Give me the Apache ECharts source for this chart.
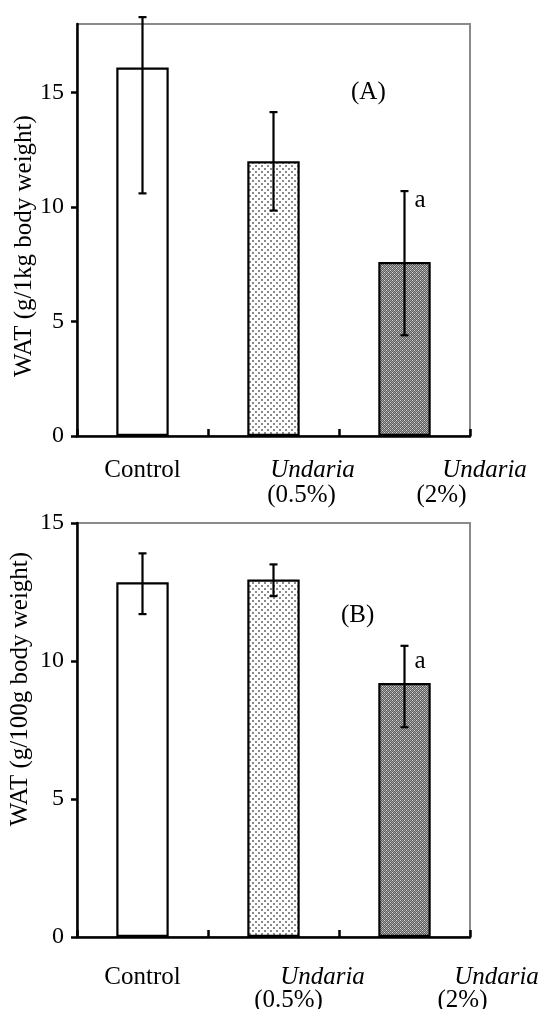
<!DOCTYPE html>
<html lang="en">
<head>
    <meta charset="UTF-8">
    <title>WAT</title>
    <script src="https://cdn.jsdelivr.net/npm/echarts@6/dist/echarts.min.js"></script>
    <style>
        *{ margin:0; padding:0; }
        #main { width:544px; height:1009px; background:#fff; }
    </style>
</head>
<body>
<div id="main"></div>
<script type="text/javascript">
    // data
    var categories = ['Control', 'Undaria (0.5%)', 'Undaria (2%)'];
    var meanA = [16.1, 12.0, 7.6];
    var lowA  = [10.6, 9.85, 4.4];
    var highA = [18.3, 14.15, 10.7];
    var sigA  = ['', '', 'a'];
    var meanB = [12.85, 12.95, 9.2];
    var lowB  = [11.7, 12.35, 7.6];
    var highB = [13.9, 13.5, 10.55];
    var sigB  = ['', '', 'a'];
    var ticksA = [0, 5, 10, 15];
    var ticksB = [0, 5, 10, 15];

    var FONT = "'Liberation Serif', 'Times New Roman', serif";

    // fill patterns
    function dotTile() {
        var c = document.createElement('canvas');
        c.width = 6; c.height = 6;
        var g = c.getContext('2d');
        g.fillStyle = '#ffffff'; g.fillRect(0, 0, 6, 6);
        g.fillStyle = '#8a8a8a';
        g.fillRect(0, 0, 2, 2); g.fillRect(3, 3, 2, 2);
        return c;
    }
    function darkTile() {
        var c = document.createElement('canvas');
        c.width = 4; c.height = 4;
        var g = c.getContext('2d');
        for (var i = 0; i < 4; i++) {
            for (var j = 0; j < 4; j++) {
                g.fillStyle = (i + j) % 2 ? '#5c5c5c' : '#a4a4a4';
                g.fillRect(i, j, 1, 1);
            }
        }
        g.fillStyle = '#d8d8d8';
        g.fillRect(0, 0, 1, 1); g.fillRect(2, 2, 1, 1);
        return c;
    }
    var fills = ['#ffffff', {image: dotTile(), repeat: 'repeat'}, {image: darkTile(), repeat: 'repeat'}];

    function barData(vals) {
        return vals.map(function (v, i) {
            return {value: v, itemStyle: {color: fills[i]}};
        });
    }
    function errData(lo, hi) {
        return lo.map(function (v, i) { return [i, v, hi[i]]; });
    }
    function errRender(sig, aDy) {
        return function (params, api) {
            var lo = api.coord([api.value(0), api.value(1)]);
            var hi = api.coord([api.value(0), api.value(2)]);
            var st = {stroke: '#000', lineWidth: 2.2};
            var w = 4;
            var kids = [
                {type: 'line', shape: {x1: lo[0], y1: lo[1], x2: hi[0], y2: hi[1]}, style: st},
                {type: 'line', shape: {x1: lo[0] - w, y1: lo[1], x2: lo[0] + w, y2: lo[1]}, style: st},
                {type: 'line', shape: {x1: hi[0] - w, y1: hi[1], x2: hi[0] + w, y2: hi[1]}, style: st}
            ];
            var s = sig[params.dataIndex];
            if (s) {
                kids.push({type: 'text', x: hi[0] + 10, y: hi[1] + aDy,
                    style: {text: s, font: '25px ' + FONT, fill: '#000', verticalAlign: 'middle'}});
            }
            return {type: 'group', children: kids};
        };
    }

    function catLabels(pads) {
        var base = {fontFamily: FONT, fontSize: 25, lineHeight: pads.lh, color: '#000'};
        function st(extra) { return Object.assign({}, base, extra); }
        return {
            interval: 0,
            color: '#000',
            fontFamily: FONT,
            fontSize: 25,
            lineHeight: pads.lh,
            margin: pads.margin,
            formatter: function (v, i) {
                if (i === 0) return '{n|Control}';
                if (i === 1) return '{u1|Undaria}\n{p1|(0.5%)}';
                return '{u2|Undaria}\n{p2|(2%)}';
            },
            rich: {
                n:  st({}),
                u1: st({fontStyle: 'italic', padding: [0, 0, 0, pads.u1]}),
                p1: st({padding: [0, 0, 0, pads.p1]}),
                u2: st({fontStyle: 'italic', padding: [0, 0, 0, pads.u2]}),
                p2: st({padding: [0, 0, 0, pads.p2]})
            }
        };
    }

    function xAxisFor(gridIndex, pads) {
        return {
            type: 'category',
            gridIndex: gridIndex,
            data: categories,
            z: 10,
            axisLine: {show: true, lineStyle: {color: '#000', width: 2.5}},
            axisTick: {show: true, interval: 0, inside: true, length: 7, lineStyle: {color: '#000', width: 2.5}},
            axisLabel: catLabels(pads),
            splitLine: {show: false}
        };
    }
    function yAxisFor(gridIndex, max, ticks, name, namePad, gap) {
        return {
            type: 'value',
            gridIndex: gridIndex,
            z: 10,
            min: ticks[0],
            max: max,
            interval: ticks[1] - ticks[0],
            name: name,
            nameLocation: 'middle',
            nameRotate: 90,
            nameGap: gap,
            nameMoveOverlap: false,
            nameTextStyle: {fontFamily: FONT, fontSize: 25, color: '#000', padding: namePad},
            axisLine: {show: true, lineStyle: {color: '#000', width: 2.5}},
            axisTick: {show: true, interval: 0, inside: false, length: 6, lineStyle: {color: '#000', width: 2.5}},
            axisLabel: {
                color: '#000', fontFamily: FONT, fontSize: 24, margin: 13,
                showMaxLabel: ticks.indexOf(max) >= 0
            },
            splitLine: {show: false}
        };
    }

    var dom = document.getElementById('main');
    var myChart = echarts.init(dom, null, {renderer: 'canvas'});

    var option = {
        animation: false,
        backgroundColor: '#fff',
        title: [
            {text: '(A)', left: 346, top: 75, textStyle: {fontFamily: FONT, fontSize: 25, fontWeight: 'normal', color: '#000'}},
            {text: '(B)', left: 336, top: 598, textStyle: {fontFamily: FONT, fontSize: 25, fontWeight: 'normal', color: '#000'}}
        ],
        grid: [
            {left: 77, top: 24, width: 393, height: 412, show: true, borderColor: '#8a8a8a', borderWidth: 2, outerBoundsMode: 'none', containLabel: false},
            {left: 77, top: 523, width: 393, height: 414, show: true, borderColor: '#8a8a8a', borderWidth: 2, outerBoundsMode: 'none', containLabel: false}
        ],
        xAxis: [
            xAxisFor(0, {margin: 22, lh: 25, u1: 78, p1: 56, u2: 160, p2: 74}),
            xAxisFor(1, {margin: 29, lh: 23, u1: 98, p1: 30, u2: 184, p2: 116})
        ],
        yAxis: [
            yAxisFor(0, 18, ticksA, 'WAT (g/1kg body weight)', [0, 32, 0, 0], 40),
            yAxisFor(1, 15, ticksB, 'WAT (g/100g body weight)', [0, 0, 0, 82], 44)
        ],
        series: [
            {
                type: 'bar', xAxisIndex: 0, yAxisIndex: 0, barWidth: '40%',
                data: barData(meanA),
                itemStyle: {borderColor: '#000', borderWidth: 2.2},
                silent: true
            },
            {
                type: 'custom', xAxisIndex: 0, yAxisIndex: 0, z: 5,
                data: errData(lowA, highA),
                renderItem: errRender(sigA, 9),
                silent: true
            },
            {
                type: 'bar', xAxisIndex: 1, yAxisIndex: 1, barWidth: '40%',
                data: barData(meanB),
                itemStyle: {borderColor: '#000', borderWidth: 2.2},
                silent: true
            },
            {
                type: 'custom', xAxisIndex: 1, yAxisIndex: 1, z: 5,
                data: errData(lowB, highB),
                renderItem: errRender(sigB, 16),
                silent: true
            }
        ]
    };

    myChart.setOption(option);
</script>
</body>
</html>
